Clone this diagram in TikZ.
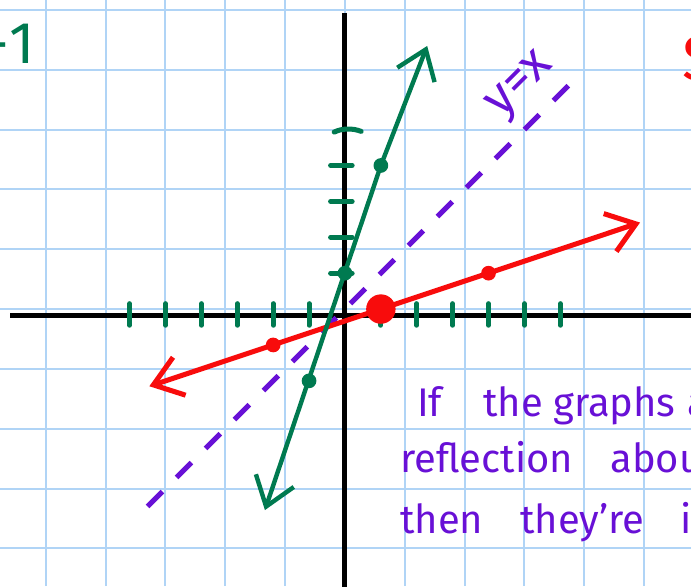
\documentclass[tikz,border=0pt]{standalone}
\usepackage{fontspec}
\setsansfont{Fira Sans}
\usetikzlibrary{arrows.meta}
\definecolor{gridblue}{RGB}{176,212,246}
\definecolor{pengreen}{RGB}{0,122,80}
\definecolor{penred}{RGB}{248,12,12}
\definecolor{penpurple}{RGB}{104,16,214}
\tikzset{
  gridline/.style={gridblue, line width=0.95pt},
  axis/.style={black, line width=2.4pt},
  axtick/.style={pengreen, line width=2.4pt, line cap=round},
  graphline/.style={line width=2.1pt, line cap=round, <->},
  pdot/.style={circle, fill=#1, inner sep=0pt, minimum size=7pt},
  note/.style={penpurple, anchor=base west, inner sep=0pt,
    font=\sffamily\fontsize{19}{23}\selectfont}
}
\begin{document}
\begin{tikzpicture}[x=0.6cm, y=0.6cm, >={Straight Barb[length=13pt,width=19pt]}]
  \useasboundingbox (-9.61,-7.72) rectangle (9.64,8.61);
  \draw[gridline] (-9.61,-7.72) grid (9.64,8.61);
  \draw[axis] (-9.33,-0.17) -- (9.8,-0.17);
  \draw[axis] (0,8.25) -- (0,-7.9);
  \foreach \x in {-6,-5,-4,-3,-2,-1,1,2,3,4,5,6}
    \draw[axtick] (\x,0.15) -- (\x,-0.45);
  \foreach \y in {1,2,3,4}
    \draw[axtick] (-0.4,\y) -- (0.2,\y);
  \draw[axtick] (-0.3,4.93) .. controls (-0.1,5.03) and (0.2,5.05) .. (0.45,4.95);

  \coordinate (yx-lo) at (-5.5,-5.5);
  \coordinate (yx-hi) at (6.5,6.5);
  \draw[penpurple, line width=2.4pt, dash pattern=on 10pt off 9.5pt] (yx-lo) -- (yx-hi);
  \node[penpurple, rotate=45, inner sep=0pt, font=\sffamily\fontsize{24}{26}\selectfont] (yxlab) at (4.93,6.2) {y=x};

  \coordinate (red-lo) at (-5.45,-2.15);
  \coordinate (red-hi) at (8.22,2.41);
  \draw[graphline, penred, line width=2.4pt] (red-lo) -- (red-hi);

  \coordinate (grn-lo) at (-2.23,-5.6);
  \coordinate (grn-hi) at (2.29,7.33);
  \draw[graphline, pengreen] (grn-lo) -- (1,4) -- (grn-hi);

  \foreach \px/\py [count=\i] in {-1/-2, 0/1, 1/4}
    \node[pdot=pengreen] (gdot\i) at (\px,\py) {};
  \foreach \px/\py [count=\i] in {-2/-1, 4/1}
    \node[pdot=penred] (rdot\i) at (\px,\py) {};
  \node[pdot=penred, minimum size=14pt] (rzero) at (1,0) {};

  \foreach \wx/\wy/\wtext [count=\i] in {
      2.0/-3.0/If, 3.84/-3.0/the, 5.79/-3.0/graphs, 9.53/-3.0/a,
      1.53/-4.54/reflection, 7.38/-4.54/abou,
      1.53/-6.24/then, 4.87/-6.24/{they're}, 9.33/-6.24/i
    }
    \node[note] (word\i) at (\wx,\wy) {\wtext};

  \node[pengreen, anchor=base east, inner sep=0pt, font=\sffamily\fontsize{28}{30}\selectfont] (finv) at (-8.61,6.85) {-\hspace{0.5pt}1};
  \node[penred, anchor=base west, inner sep=0pt, font=\sffamily\fontsize{30}{32}\selectfont] (glab) at (9.38,6.38) {S};
\end{tikzpicture}
\end{document}
